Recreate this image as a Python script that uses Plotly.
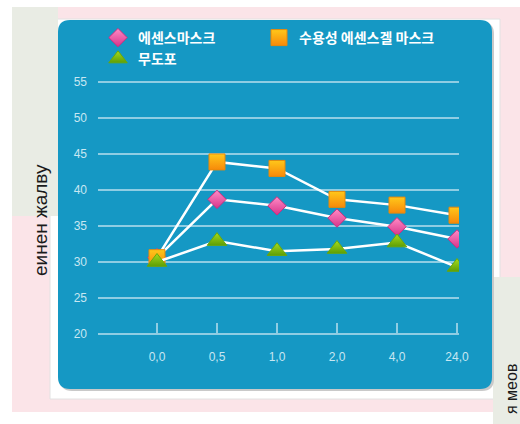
import plotly.graph_objects as go

W, H = 520, 424

# ---- data ----
categories = ["0,0", "0,5", "1,0", "2,0", "4,0", "24,0"]
essence_mask = [30.6, 38.7, 37.8, 36.1, 34.9, 33.2]          # 에센스마스크
gel_mask = [30.6, 43.9, 43.0, 38.7, 37.9, 36.5]              # 수용성 에센스겔 마스크
untreated = [30.0, 32.9, 31.5, 31.8, 32.7, 29.3]             # 무도포
y_ticks = [20, 25, 30, 35, 40, 45, 50, 55]

BLUE = "#1598c4"
GRID = "#8fcde3"
TICKC = "#c8e7f2"


def px(x):
    return x / W


def py(y):
    return 1 - y / H


def rect(x0, y0, x1, y1, color, line=None):
    return dict(type="rect", xref="paper", yref="paper", x0=px(x0), x1=px(x1),
                y0=py(y1), y1=py(y0), fillcolor=color, layer="below",
                line=dict(width=0) if line is None else line)


def rounded(x0, y0, x1, y1, r):
    pts = [
        f"M {px(x0 + r)} {py(y0)}",
        f"L {px(x1 - r)} {py(y0)}",
        f"Q {px(x1)} {py(y0)} {px(x1)} {py(y0 + r)}",
        f"L {px(x1)} {py(y1 - r)}",
        f"Q {px(x1)} {py(y1)} {px(x1 - r)} {py(y1)}",
        f"L {px(x0 + r)} {py(y1)}",
        f"Q {px(x0)} {py(y1)} {px(x0)} {py(y1 - r)}",
        f"L {px(x0)} {py(y0 + r)}",
        f"Q {px(x0)} {py(y0)} {px(x0 + r)} {py(y0)}",
        "Z",
    ]
    return " ".join(pts)


shapes = [
    rect(12, 7, 520, 412, "#fbe4e8"),
    rect(50, 19, 500, 399, "#ffffff", line=dict(color="#e2e2e2", width=1)),
    rect(12, 7, 58, 216, "#e9ece4"),
    rect(493, 277, 520, 424, "#e9ece4"),
    dict(type="path", xref="paper", yref="paper", path=rounded(60, 22, 494, 391, 12),
         fillcolor="#c9c9c9", line=dict(width=0), layer="below"),
    dict(type="path", xref="paper", yref="paper", path=rounded(58, 20, 492, 389, 12),
         fillcolor=BLUE, line=dict(width=0), layer="below"),
]

pink_marker = dict(symbol="square", angle=45, size=13, color="#ff8cc6",
                   gradient=dict(type="vertical", color="#d6338a"),
                   line=dict(color="#c92f80", width=1))
orange_marker = dict(symbol="square", size=16, color="#ffc81a",
                     gradient=dict(type="vertical", color="#f7890a"),
                     line=dict(color="#e8890a", width=1))
green_marker = dict(symbol="triangle-up", size=17, color="#a6dc1e",
                    gradient=dict(type="vertical", color="#5e9e05"),
                    line=dict(color="#6aa80a", width=1))

series = [
    ("에센스마스크", essence_mask, pink_marker, "legend"),
    ("수용성 에센스겔 마스크", gel_mask, orange_marker, "legend2"),
    ("무도포", untreated, green_marker, "legend"),
]

fig = go.Figure()
for name, vals, mk, lg in series:
    fig.add_trace(go.Scatter(
        x=categories, y=vals, name=name, mode="lines+markers",
        line=dict(color="white", width=2.5), marker=mk, showlegend=False,
    ))
# legend entries (markers only, as in the reference legend)
for name, vals, mk, lg in [series[0], series[2], series[1]]:
    fig.add_trace(go.Scatter(
        x=[None], y=[None], name=name, mode="markers", marker=mk,
        legend=lg, showlegend=True,
    ))

legend_font = dict(family="Noto Sans CJK KR", size=14, color="white", weight="bold")

fig.update_layout(
    width=W, height=H,
    margin=dict(l=0, r=0, t=0, b=0, pad=0, autoexpand=False),
    paper_bgcolor="white",
    plot_bgcolor="rgba(0,0,0,0)",
    shapes=shapes,
    showlegend=True,
    legend=dict(x=px(98), y=py(22), xanchor="left", yanchor="top",
                bgcolor="rgba(0,0,0,0)", font=legend_font, tracegroupgap=0,
                itemwidth=30),
    legend2=dict(x=px(259), y=py(22), xanchor="left", yanchor="top",
                 bgcolor="rgba(0,0,0,0)", font=legend_font, itemwidth=30),
    xaxis=dict(
        type="category", categoryarray=categories, categoryorder="array",
        range=[-0.983, 5.033], domain=[px(98), px(459)],
        anchor="free", position=py(334), automargin=False,
        showgrid=False, zeroline=False,
        showline=True, linecolor=GRID, linewidth=1.5,
        ticks="inside", ticklen=10, tickwidth=1.5, tickcolor=GRID,
        tickfont=dict(family="Liberation Sans", size=12, color=TICKC),
        ticklabelstandoff=12,
    ),
    yaxis=dict(
        range=[19, 56], domain=[py(341.2), py(74.8)], automargin=False,
        tickvals=y_ticks, ticktext=[str(v) for v in y_ticks],
        showgrid=True, gridcolor=GRID, gridwidth=1.5,
        zeroline=False, showline=False, ticks="",
        tickfont=dict(family="Liberation Sans", size=12, color=TICKC),
        ticklabelstandoff=10,
    ),
    annotations=[
        dict(text="еинен жалву", xref="paper", yref="paper", x=px(40), y=py(220),
             xanchor="center", yanchor="middle", textangle=-90, showarrow=False,
             font=dict(family="Liberation Sans", size=19, color="#1a1a1a")),
        dict(text="я меов", xref="paper", yref="paper", x=px(511), y=py(362),
             xanchor="center", yanchor="top", textangle=-90, showarrow=False,
             font=dict(family="Liberation Sans", size=16, color="#1a1a1a")),
    ],
)

fig.write_html(
    "out.html",
    config={"responsive": False, "displayModeBar": False},
    post_script="document.body.style.margin='0';document.body.style.overflow='hidden';",
)
